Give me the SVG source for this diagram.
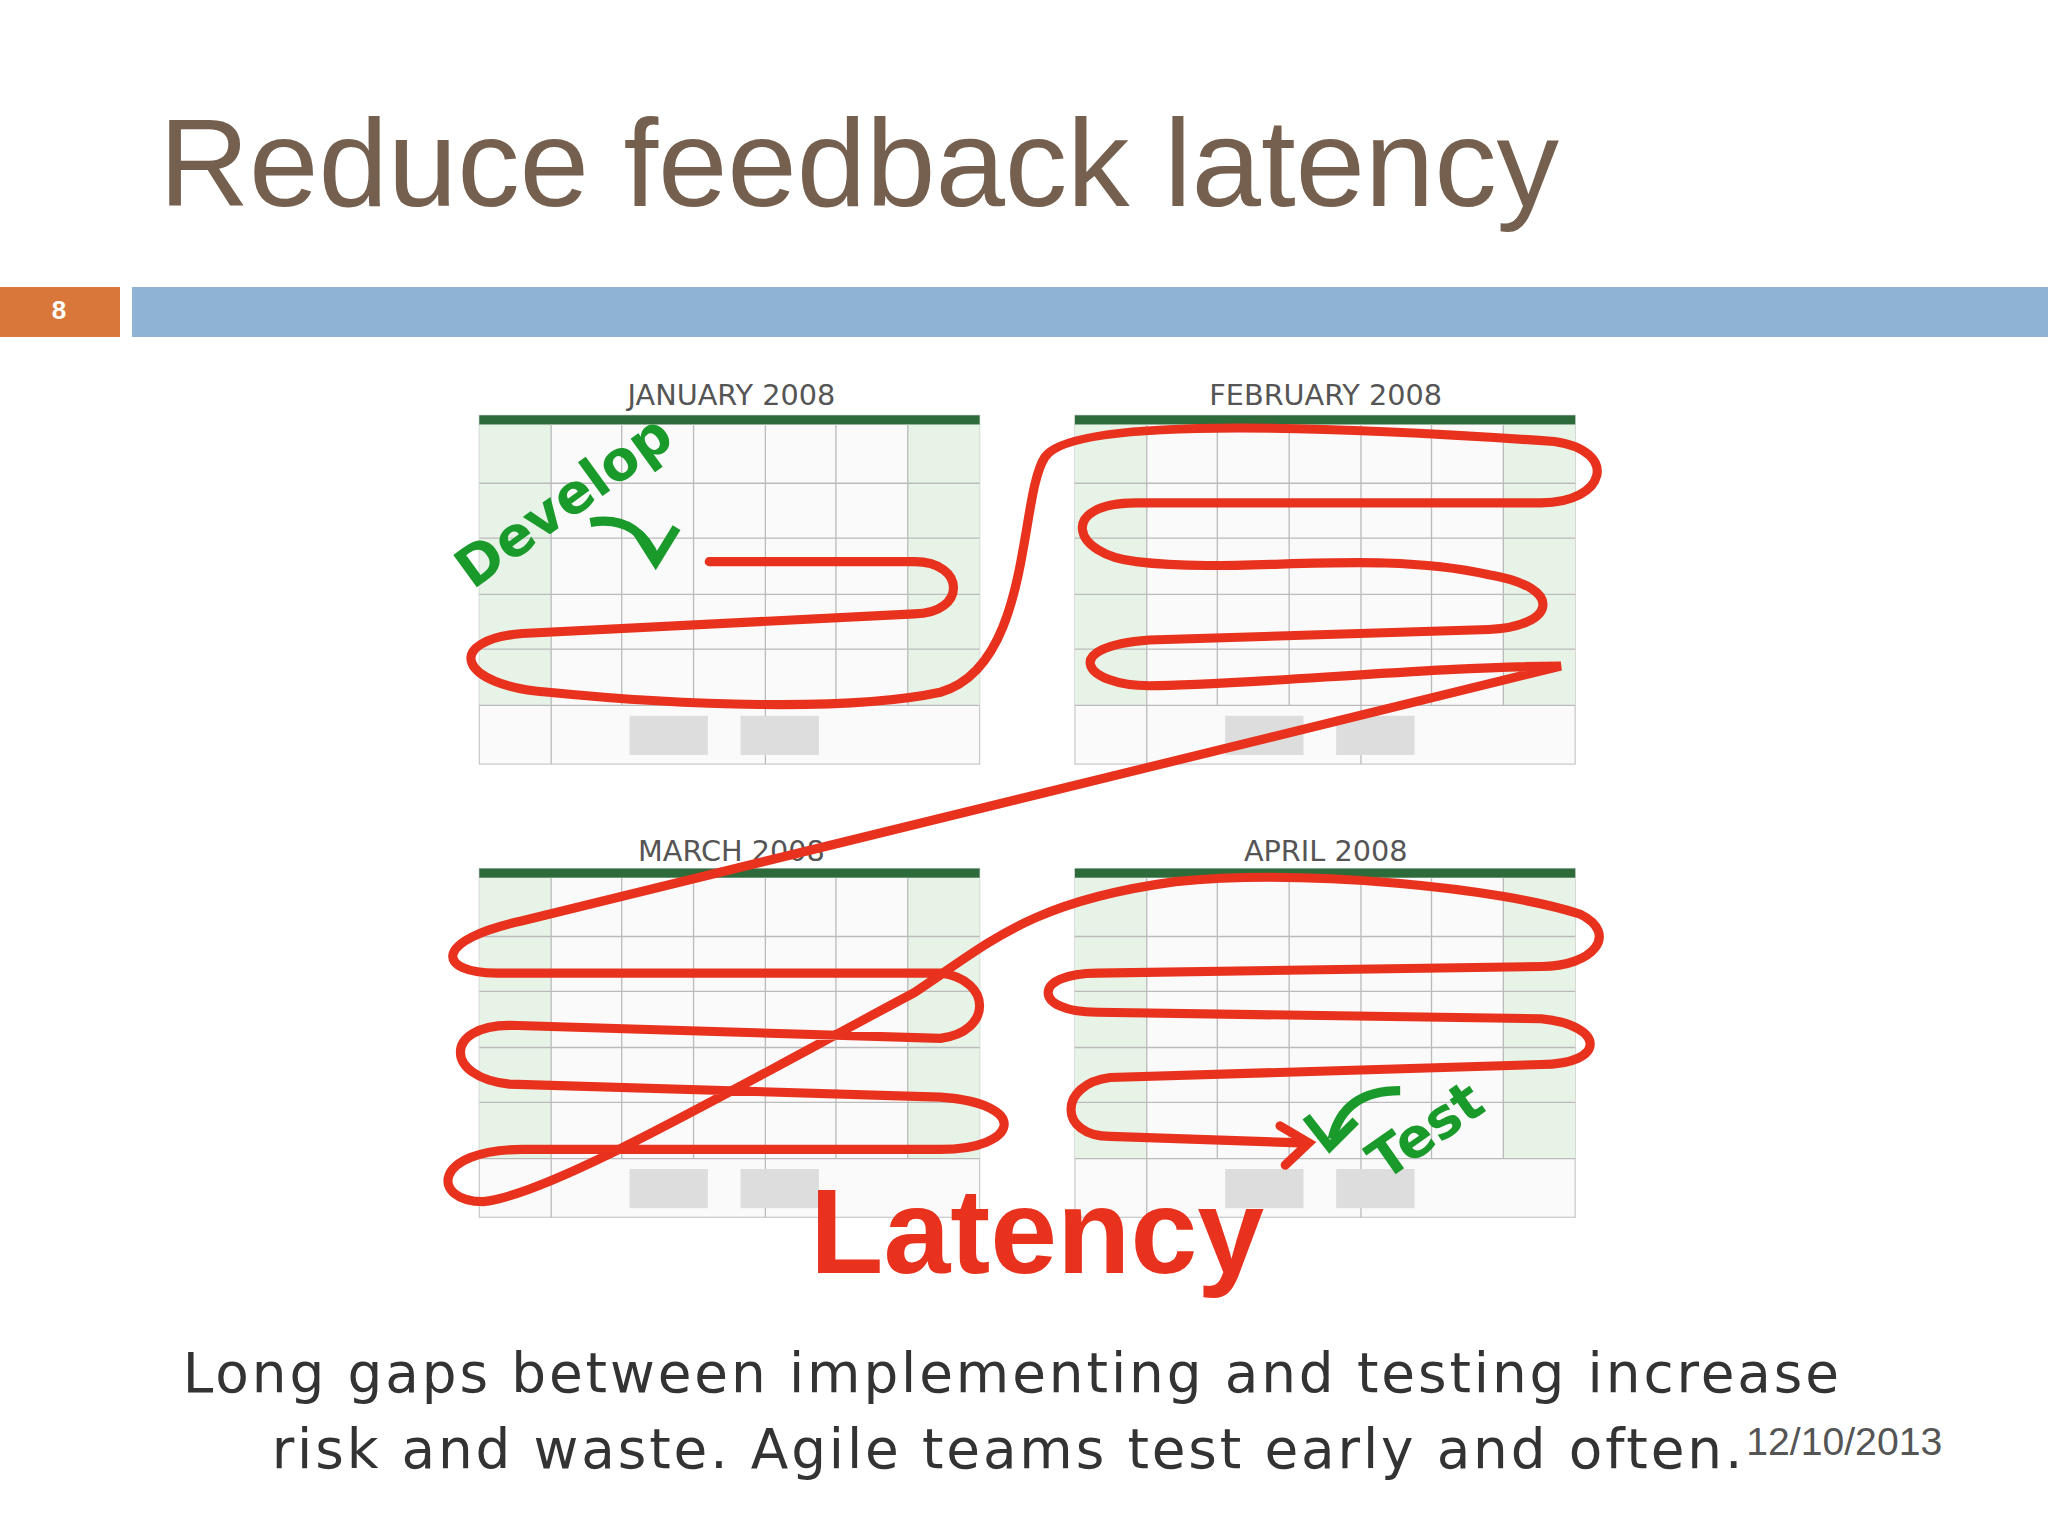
<svg xmlns="http://www.w3.org/2000/svg" width="2048" height="1536" viewBox="0 0 2048 1536">
<style>
.t{font-family:"Liberation Sans",Arial,sans-serif}
.cal{font-family:"DejaVu Sans",sans-serif;font-size:22px;fill:#555;text-anchor:middle}
.g{stroke:#bbb;stroke-width:1;fill:none}
.grn{font-family:"DejaVu Sans",sans-serif;font-weight:bold;fill:#1a9a2a}
</style>
<defs>
<g id="cal">
<rect x="0" y="0" width="383" height="267" fill="#fafafa" stroke="#ccc"/>
<rect x="0" y="7" width="55" height="215" fill="#e6f3e6"/>
<rect x="328" y="7" width="55" height="215" fill="#e6f3e6"/>
<rect x="0" y="0" width="383" height="7" fill="#2e6b3a"/>
<path class="g" d="M55,7V267M109,7V222M164,7V222M219,7V267M273,7V222M328,7V222M0,52H383M0,94H383M0,137H383M0,179H383M0,222H383"/>
<rect x="115" y="230" width="60" height="30" fill="#ddd"/><rect x="200" y="230" width="60" height="30" fill="#ddd"/>
</g>
</defs>
<rect width="2048" height="1536" fill="#fff"/>
<text class="t" x="159" y="206" font-size="125" fill="#75604f" textLength="1400">Reduce feedback latency</text>
<rect x="0" y="287" width="120" height="50" fill="#d9773a"/>
<text class="t" x="59" y="319" font-size="26" font-weight="bold" fill="#fff" text-anchor="middle">8</text>
<rect x="132" y="287" width="1916" height="50" fill="#8fb3d4"/>
<g transform="scale(1.30612)">
<use href="#cal" x="367" y="318"/><use href="#cal" x="823" y="318"/>
<use href="#cal" x="367" y="665"/><use href="#cal" x="823" y="665"/>
<text class="cal" x="560" y="310">JANUARY 2008</text>
<text class="cal" x="1015" y="310">FEBRUARY 2008</text>
<text class="cal" x="560" y="659">MARCH 2008</text>
<text class="cal" x="1015" y="659">APRIL 2008</text>
<path fill="none" stroke="#e8321e" stroke-width="7" stroke-linecap="round" d="M543,430 L700,430 C740,430 740,470 700,470 L400,485 C340,490 350,525 420,530 C520,540 650,545 720,530 C790,510 780,380 800,350 C820,320 1000,325 1190,338 C1240,345 1230,385 1180,385 L870,385 C810,385 820,425 870,430 C950,440 1050,420 1140,440 C1200,450 1190,480 1140,482 L880,490 C810,495 830,525 880,525 C950,525 1100,510 1195,510 L400,705 C330,720 335,745 380,745 L720,745 C760,750 760,790 720,795 L390,785 C340,785 340,825 390,830 L720,840 C790,845 780,880 720,880 L400,880 C330,880 330,920 370,920 C420,915 550,840 700,760 C760,720 790,690 900,675 C1000,665 1150,680 1210,700 C1240,715 1220,740 1180,740 L840,745 C790,745 790,775 840,775 L1180,780 C1230,785 1230,815 1180,815 L850,825 C810,830 810,870 850,870 L995,875"/>
<path d="M980,862 L1002,875 L984,892" fill="none" stroke="#e8321e" stroke-width="7" stroke-linecap="round"/>
<text class="grn" font-size="42" transform="translate(362,452) rotate(-36)">Develop</text>
<path d="M452,400 C480,395 495,410 502,428" fill="none" stroke="#1a9a2a" stroke-width="7"/>
<path d="M488,408 L502,430 L518,404" fill="none" stroke="#1a9a2a" stroke-width="7"/>
<text class="grn" font-size="42" transform="translate(1060,905) rotate(-35)">Test</text>
<path d="M1072,835 C1040,835 1025,850 1020,872" fill="none" stroke="#1a9a2a" stroke-width="7"/>
<path d="M1000,855 L1018,878 L1038,858" fill="none" stroke="#1a9a2a" stroke-width="7"/>
<text class="t" x="794" y="975" font-size="92" font-weight="bold" fill="#e8321e" text-anchor="middle">Latency</text>
<text x="774" y="1066" font-family="DejaVu Sans,sans-serif" font-size="42" fill="#333" text-anchor="middle" textLength="1268">Long gaps between implementing and testing increase</text>
<text x="771" y="1124" font-family="DejaVu Sans,sans-serif" font-size="42" fill="#333" text-anchor="middle" textLength="1126">risk and waste.  Agile teams test early and often.</text>
<text class="t" x="1412" y="1114" font-size="30" fill="#555" text-anchor="middle">12/10/2013</text>
</g>
</svg>
